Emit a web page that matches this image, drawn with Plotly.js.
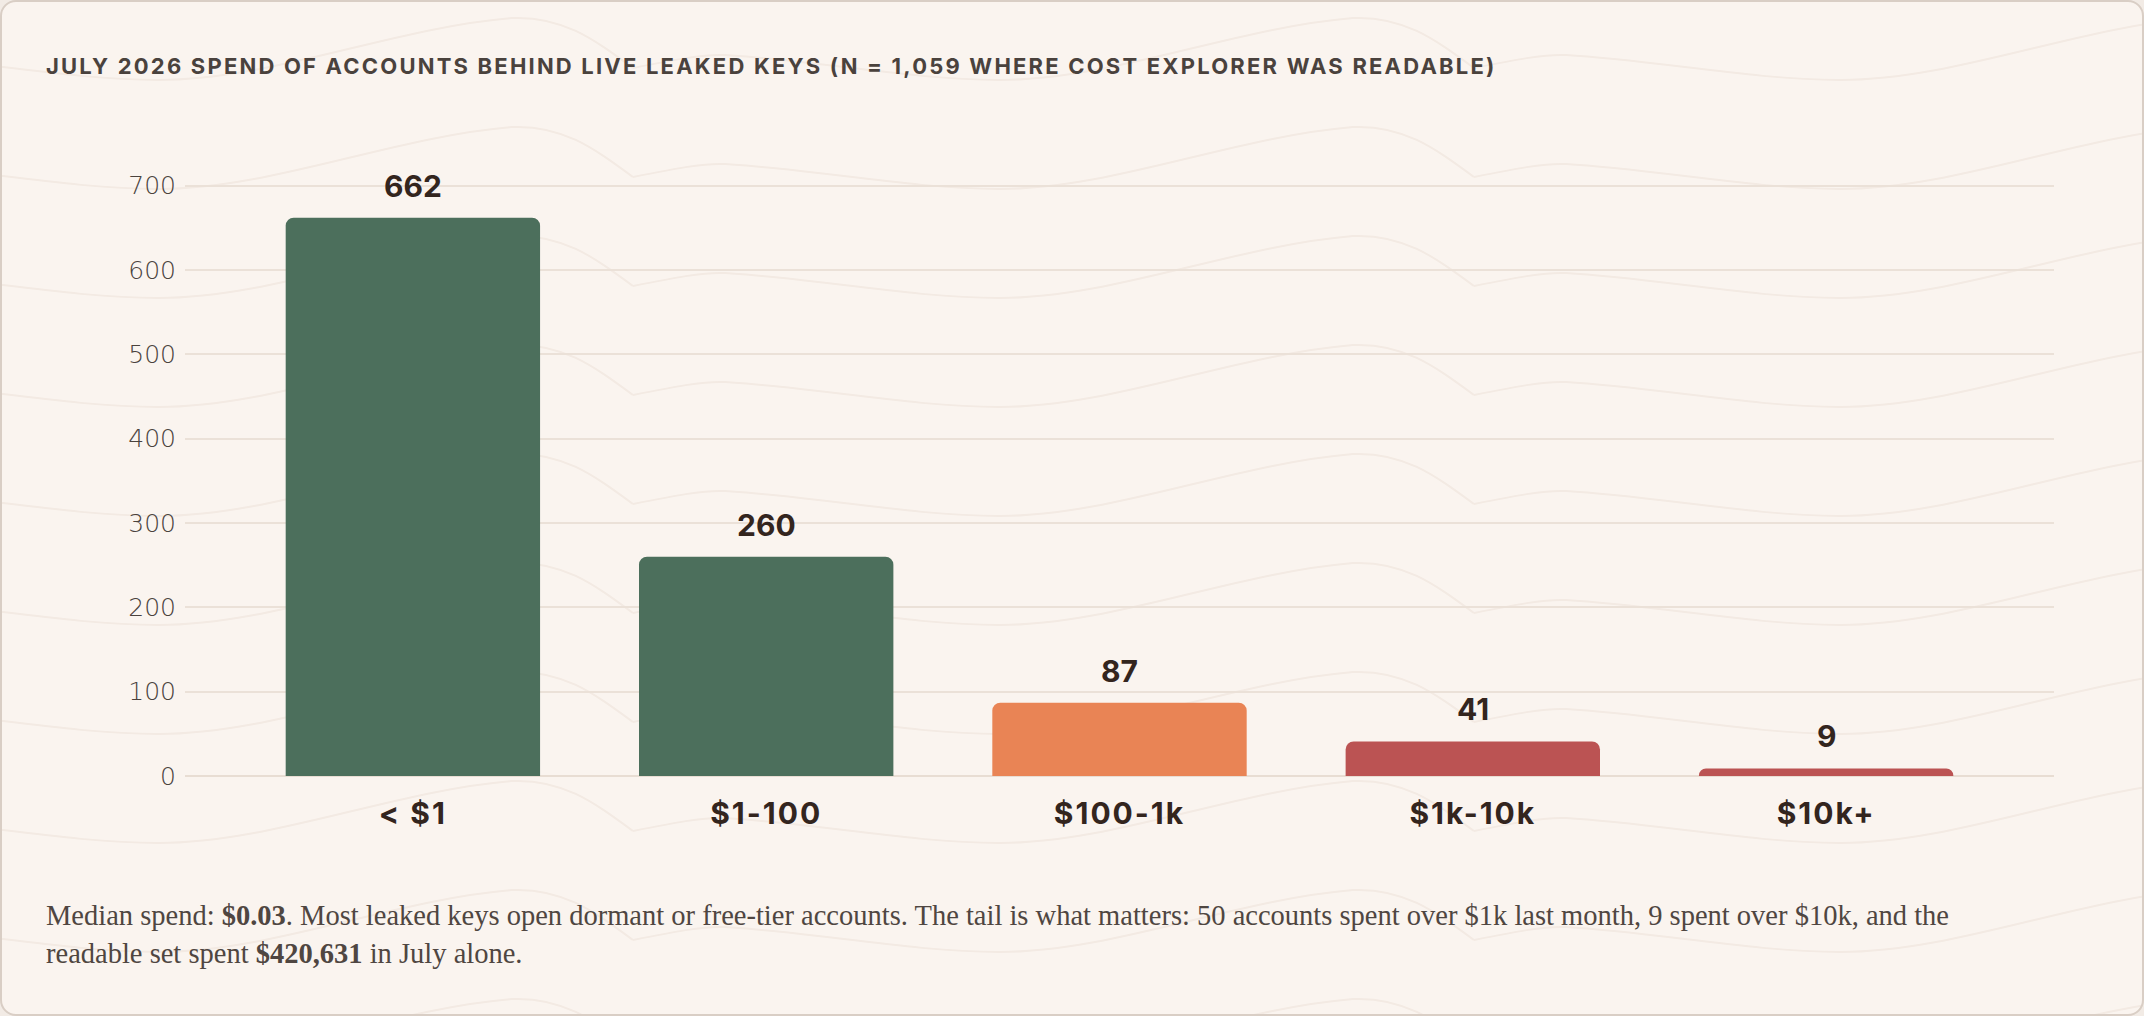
<!DOCTYPE html>
<html>
<head>
<meta charset="utf-8">
<script src="https://cdn.plot.ly/plotly-3.0.1.min.js"></script>
<style>
  html, body { margin: 0; padding: 0; background: #f2ebe5; }
  #card {
    position: absolute; left: 0; top: 0;
    width: 2140px; height: 1012px;
    border: 2px solid #d9cec5;
    border-radius: 16px;
    overflow: hidden;
    background-color: #faf4ef;
    background-image: url("data:image/svg+xml;utf8,<svg xmlns='http://www.w3.org/2000/svg' width='841' height='109'><path d='M0,60 C40,52 70,46 92,47 C180,52 280,72 366,72 C480,72 600,20 720,10 C770,8 800,30 841,60' fill='none' stroke='%23f3eae3' stroke-width='2'/></svg>");
    background-repeat: repeat;
    background-position: 631px 6px;
  }
  #chart { width: 2140px; height: 1012px; }
  .gtitle { letter-spacing: 2.2px; }
  .xtick text { letter-spacing: 2px; }
</style>
</head>
<body>
<div id="card"><div id="chart"></div></div>
<script>
// ---- data ----
const categories = ['&lt; $1', '$1-100', '$100-1k', '$1k-10k', '$10k+'];
const accounts = [662, 260, 87, 41, 9];
const barColors = ['#4c6f5c', '#4c6f5c', '#e98455', '#bb5353', '#bb5353'];
const yTickVals = [0, 100, 200, 300, 400, 500, 600, 700];
const titleText = 'JULY 2026 SPEND OF ACCOUNTS BEHIND LIVE LEAKED KEYS (N = 1,059 WHERE COST EXPLORER WAS READABLE)';
const noteLine1 = 'Median spend: <b>$0.03</b>. Most leaked keys open dormant or free-tier accounts. The tail is what matters: 50 accounts spent over $1k last month, 9 spent over $10k, and the';
const noteLine2 = 'readable set spent <b>$420,631</b> in July alone.';

const W = 2140, H = 1012;
const mL = 183, mR = 88, mT = 182, mB = 238;
const plotH = H - mT - mB;
const plotW = W - mL - mR;

const trace = {
  type: 'bar',
  x: categories,
  y: accounts,
  marker: { color: barColors, cornerradius: 8, line: { width: 0 } },
  width: 0.72,
  hoverinfo: 'skip'
};

const valueAnnotations = categories.map((c, i) => ({
  x: c, y: accounts[i], xref: 'x', yref: 'y',
  text: String(accounts[i]),
  showarrow: false,
  yanchor: 'middle',
  yshift: 32,
  font: { family: 'Inter, "DejaVu Sans", sans-serif', size: 30, color: '#33251e', weight: 700 }
}));

const noteFont = { family: '"Liberation Serif", "DejaVu Serif", serif', size: 28.5, color: '#4f4641' };
const noteX = (42 - mL) / plotW;
const noteAnnotations = [
  { text: noteLine1, y: -(913 - (mT + plotH)) / plotH },
  { text: noteLine2, y: -(951 - (mT + plotH)) / plotH }
].map(a => ({
  xref: 'paper', yref: 'paper', x: noteX, y: a.y,
  xanchor: 'left', yanchor: 'middle', align: 'left',
  text: a.text, showarrow: false, font: noteFont
}));

const layout = {
  width: W, height: H,
  margin: { l: mL, r: mR, t: mT, b: mB, pad: 0 },
  paper_bgcolor: 'rgba(0,0,0,0)',
  plot_bgcolor: 'rgba(0,0,0,0)',
  showlegend: false,
  title: {
    text: titleText,
    xref: 'container', yref: 'container',
    x: 44 / W, xanchor: 'left',
    y: 1 - 64 / H, yanchor: 'middle',
    font: { family: 'Inter, "DejaVu Sans", sans-serif', size: 22, color: '#4a423d', weight: 700 }
  },
  xaxis: {
    type: 'category',
    range: [-0.645, 4.645],
    showgrid: false, zeroline: false, showline: false,
    ticks: '',
    ticklabelstandoff: 17,
    tickfont: { family: 'Inter, "DejaVu Sans", sans-serif', size: 30, color: '#33251e', weight: 700 },
    fixedrange: true
  },
  yaxis: {
    range: [0, 702],
    tickvals: yTickVals,
    ticktext: yTickVals.map(String),
    showgrid: true, gridcolor: '#ebe1d8', gridwidth: 2,
    zeroline: true, zerolinecolor: '#e8ddd3', zerolinewidth: 2,
    showline: false, ticks: '',
    ticklabelstandoff: 8,
    tickfont: { family: '"DejaVu Sans", sans-serif', size: 25, color: '#4a423d', weight: 200 },
    fixedrange: true
  },
  annotations: valueAnnotations.concat(noteAnnotations)
};

Plotly.newPlot('chart', [trace], layout, { displayModeBar: false, staticPlot: true });
</script>
</body>
</html>
